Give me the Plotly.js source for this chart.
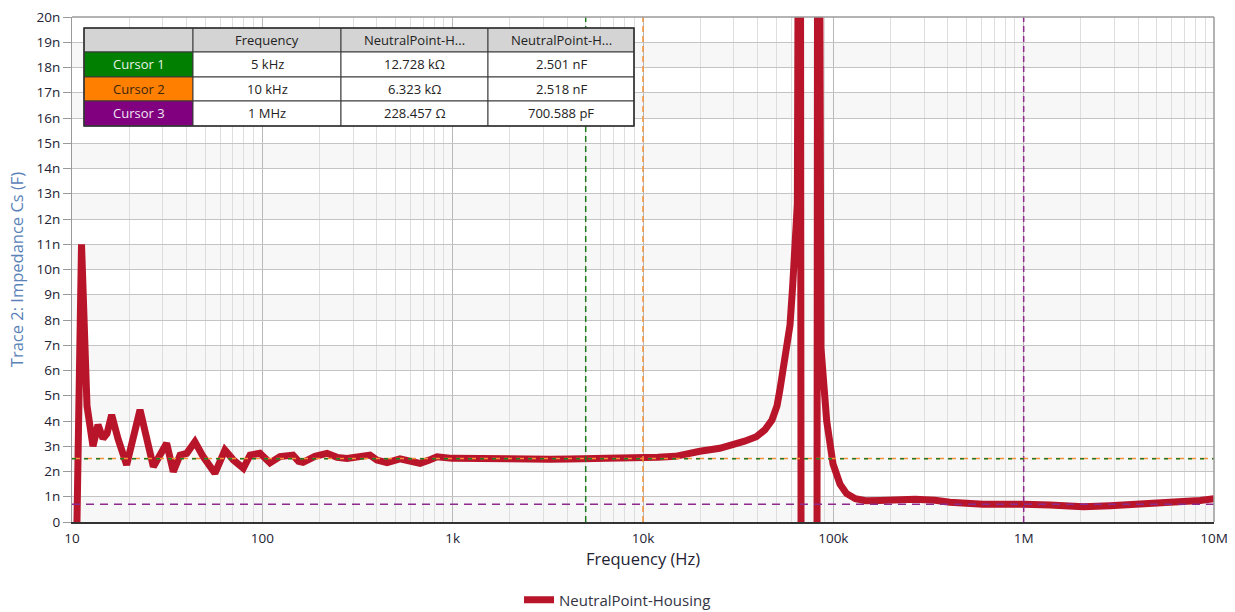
<!DOCTYPE html>
<html>
<head>
<meta charset="utf-8">
<script src="https://cdn.plot.ly/plotly-3.0.1.min.js"></script>
<style>
html,body{margin:0;padding:0;background:#fff;}
#chart{width:1235px;height:612px;}
</style>
</head>
<body>
<div id="chart"></div>
<script>
// ---- data ----
const freqHz = [
  10.0, 10.95, 11.22, 11.99, 12.89, 13.70, 14.55, 15.27, 16.16, 17.44, 19.37, 22.77, 26.76, 31.43, 34.06, 36.94,
  40.07, 44.23, 48.88, 56.34, 63.60, 70.38, 79.48, 86.17, 97.2, 109.7, 123.8, 144.9, 155, 163.6, 189.1, 218.7,
  246.8, 278.6, 326.1, 367.9, 400, 451.9, 528.8, 597.0, 673.6, 750, 827.6, 992, 1300, 1770, 2400, 3247,
  4100, 5000, 6710, 8200, 10000, 12000, 14800, 17600, 19900, 25300, 29700, 34200, 39400, 43700, 47600,
  50600, 52300, 54400, 57300, 59200, 61200, 62900, 64700, 66800, 68500, 75000, 81100, 83100, 86100, 92300,
  99600, 108400, 117200, 130600, 147500, 175900, 216500, 268700, 342200, 410000, 611500, 751000, 1000000,
  1375000, 2058000, 2842000, 3767000, 5204000, 6902000, 8445000, 10000000
];
const csNano = [
  -12, 6.9, 11.0, 4.6, 3.0, 3.85, 3.3, 3.5, 4.24, 3.3, 2.26, 4.44, 2.19, 3.12, 1.99, 2.65,
  2.72, 3.18, 2.59, 1.93, 2.85, 2.46, 2.13, 2.65, 2.72, 2.34, 2.59, 2.65, 2.4, 2.36, 2.6, 2.72,
  2.56, 2.52, 2.62, 2.65, 2.45, 2.35, 2.5, 2.42, 2.32, 2.45, 2.58, 2.52, 2.5, 2.5, 2.48, 2.49,
  2.5, 2.501, 2.51, 2.52, 2.518, 2.56, 2.6, 2.68, 2.8, 2.92, 3.05, 3.2, 3.38, 3.65, 4.04,
  4.6, 5.2, 6.0, 6.8, 7.8, 9.4, 11.0, 12.6, 45, -45, -45, -45, 45, 6.9, 4.0,
  2.3, 1.5, 1.13, 0.92, 0.84, 0.85, 0.88, 0.9, 0.86, 0.78, 0.7, 0.72, 0.7006,
  0.67, 0.6, 0.64, 0.68, 0.74, 0.8, 0.85, 0.92
];
const seriesName = 'NeutralPoint-Housing';

const xTickVals = [10, 100, 1000, 10000, 100000, 1000000, 10000000];
const xTickText = ['10', '100', '1k', '10k', '100k', '1M', '10M'];
const yTickVals = [0,1e-9,2e-9,3e-9,4e-9,5e-9,6e-9,7e-9,8e-9,9e-9,10e-9,11e-9,12e-9,13e-9,14e-9,15e-9,16e-9,17e-9,18e-9,19e-9,20e-9];
const yTickText = ['0','1n','2n','3n','4n','5n','6n','7n','8n','9n','10n','11n','12n','13n','14n','15n','16n','17n','18n','19n','20n'];

const cursorNames = ['Cursor 1', 'Cursor 2', 'Cursor 3'];
const cursorFreqs = [5000, 10000, 1000000];
const cursorCaps = [2.501e-9, 2.518e-9, 700.588e-12];
const cursorFreqText = ['5 kHz', '10 kHz', '1 MHz'];
const cursorImpText = ['12.728 kΩ', '6.323 kΩ', '228.457 Ω'];
const cursorCapText = ['2.501 nF', '2.518 nF', '700.588 pF'];
const tableHeader = ['', 'Frequency', 'NeutralPoint-H...', 'NeutralPoint-H...'];

// ---- styles ----
const FONT = 'Segoe UI, Open Sans, sans-serif';
const cursorColors = ['#1e7b1e', '#f5923a', '#8e2a8e'];
const cursorDash = ['4px,8px', '8px,4px', '8px,6px'];
const cellFill = ['#007f00', '#ff8000', '#800080'];
const cellText = ['#e6f3e6', '#3a2510', '#f2e6f2'];

const W = 1235, H = 612, ML = 72, MR = 21, MT = 17, MB = 90;
const PW = W - ML - MR, PH = H - MT - MB;
const px2x = p => (p - ML) / PW;
const px2y = p => (H - MB - p) / PH;

const traces = [{
  x: freqHz,
  y: csNano.map(v => v * 1e-9),
  type: 'scatter',
  mode: 'lines',
  name: seriesName,
  line: {color: '#b9152a', width: 7},
  hoverinfo: 'skip'
}];

const order = [1, 0, 2];
order.forEach(i => {
  traces.push({
    x: [cursorFreqs[i], cursorFreqs[i]], y: [0, 20e-9], type: 'scatter', mode: 'lines',
    showlegend: false, hoverinfo: 'skip',
    line: {color: cursorColors[i], width: 1.5, dash: '6px,4px'}
  });
});
order.forEach(i => {
  traces.push({
    x: [xTickVals[0], xTickVals[xTickVals.length - 1]], y: [cursorCaps[i], cursorCaps[i]],
    type: 'scatter', mode: 'lines', showlegend: false, hoverinfo: 'skip',
    line: {color: cursorColors[i], width: 1.5, dash: cursorDash[i]}
  });
});

const shapes = [];
for (let i = 0; i < yTickVals.length - 1; i += 2) {
  shapes.push({type: 'rect', xref: 'paper', yref: 'y', x0: 0, x1: 1, y0: yTickVals[i], y1: yTickVals[i + 1],
    fillcolor: '#f7f7f7', line: {width: 0}, layer: 'below'});
}

const colEdges = [84, 193, 341, 488, 634];
const rowEdges = [28, 52, 77, 101, 126];
const annotations = [];
for (let r = 0; r < 4; r++) {
  for (let c = 0; c < 4; c++) {
    let fill = '#ffffff', txt = '', col = '#222222';
    if (r === 0) { fill = '#d4d4d4'; txt = tableHeader[c]; }
    else {
      const k = r - 1;
      if (c === 0) { fill = cellFill[k]; txt = cursorNames[k]; col = cellText[k]; }
      else if (c === 1) txt = cursorFreqText[k];
      else if (c === 2) txt = cursorImpText[k];
      else txt = cursorCapText[k];
    }
    shapes.push({type: 'rect', xref: 'paper', yref: 'paper',
      x0: px2x(colEdges[c]), x1: px2x(colEdges[c + 1]), y0: px2y(rowEdges[r + 1]), y1: px2y(rowEdges[r]),
      fillcolor: fill, line: {color: '#3a3a3a', width: 1}, layer: 'above'});
    if (txt) {
      annotations.push({xref: 'paper', yref: 'paper',
        x: px2x((colEdges[c] + colEdges[c + 1]) / 2), y: px2y((rowEdges[r] + rowEdges[r + 1]) / 2),
        text: txt, showarrow: false, xanchor: 'center', yanchor: 'middle',
        font: {family: FONT, size: 13, color: col}});
    }
  }
}
shapes.push({type: 'rect', xref: 'paper', yref: 'paper',
  x0: px2x(colEdges[0]), x1: px2x(colEdges[4]), y0: px2y(rowEdges[4]), y1: px2y(rowEdges[0]),
  line: {color: '#333333', width: 1.5}, layer: 'above'});

const layout = {
  width: W, height: H,
  margin: {l: ML, r: MR, t: MT, b: MB, pad: 0, autoexpand: false},
  paper_bgcolor: '#ffffff', plot_bgcolor: '#ffffff',
  font: {family: FONT, color: '#222222'},
  showlegend: true,
  legend: {orientation: 'h', xref: 'container', x: 0.5, xanchor: 'center',
    yref: 'container', y: (H - 600) / H, yanchor: 'middle',
    font: {family: FONT, size: 15, color: '#333344'}},
  xaxis: {
    type: 'log', range: [1, 7], tickvals: xTickVals, ticktext: xTickText,
    showgrid: true, gridcolor: '#b8b8b8', gridwidth: 1,
    minor: {dtick: 'D1', showgrid: true, gridcolor: '#dedede', gridwidth: 1, ticks: ''},
    showline: true, linecolor: '#333333', linewidth: 2, mirror: false,
    ticks: 'outside', ticklen: 3, tickcolor: 'rgba(0,0,0,0)',
    tickfont: {family: FONT, size: 13.5, color: '#222233'},
    automargin: true,
    title: {text: 'Frequency (Hz)', font: {family: FONT, size: 16.5, color: '#222233'}, standoff: 0},
    zeroline: false, fixedrange: true
  },
  yaxis: {
    range: [0, 20e-9], tickvals: yTickVals, ticktext: yTickText,
    showgrid: true, gridcolor: '#c4c4c4', gridwidth: 1,
    showline: true, linecolor: '#9a9a9a', linewidth: 1,
    ticks: 'outside', ticklen: 8, tickcolor: '#9a9a9a',
    tickfont: {family: FONT, size: 13.5, color: '#222233'},
    automargin: true,
    title: {text: 'Trace 2: Impedance Cs (F)', font: {family: FONT, size: 16.5, color: '#5a82b8'}, standoff: 8},
    zeroline: false, fixedrange: true
  },
  shapes: shapes.concat([
    {type: 'line', xref: 'paper', yref: 'paper', x0: 0, x1: 1, y0: 1, y1: 1, line: {color: '#9a9a9a', width: 1.5}},
    {type: 'line', xref: 'paper', yref: 'paper', x0: 1, x1: 1, y0: 0, y1: 1, line: {color: '#9a9a9a', width: 1.5}}
  ]),
  annotations: annotations
};

Plotly.newPlot('chart', traces, layout, {displayModeBar: false, staticPlot: true});
</script>
</body>
</html>
